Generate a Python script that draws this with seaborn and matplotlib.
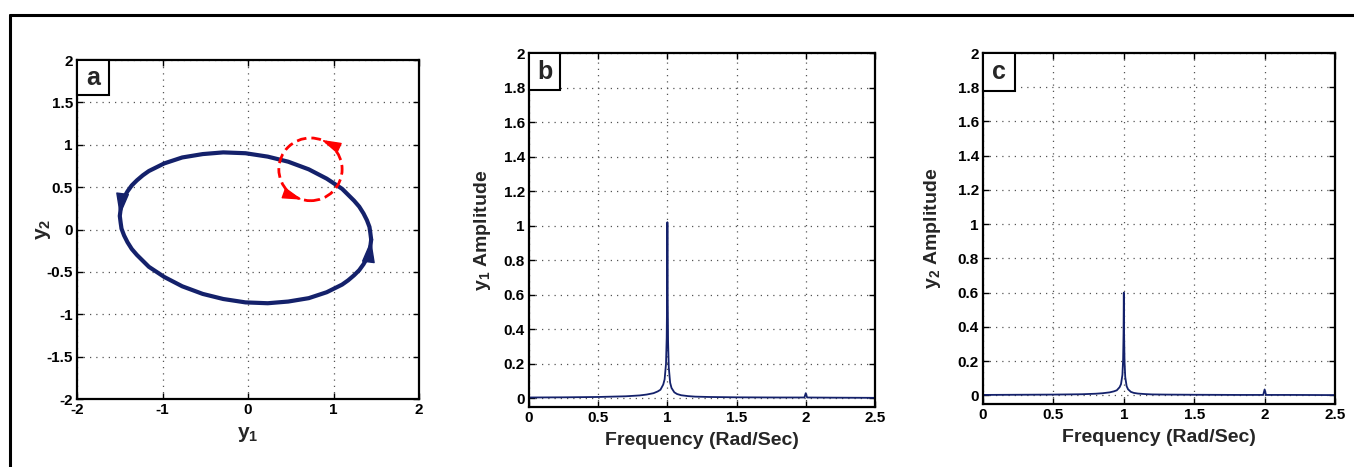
import math

import matplotlib.pyplot as plt
import pandas as pd
import seaborn as sns
from matplotlib.lines import Line2D
from matplotlib.patches import Circle, Rectangle
from matplotlib.ticker import FuncFormatter, MultipleLocator

# phase portrait (y1, y2), counter-clockwise
orbit_y1 = [1.44, 1.43, 1.42, 1.39, 1.35, 1.30, 1.24, 1.17, 1.10, 0.92,
            0.71, 0.47, 0.23, -0.03, -0.29, -0.53, -0.77, -0.98, -1.16, -1.23,
            -1.30, -1.36, -1.41, -1.45, -1.48, -1.49, -1.50, -1.49, -1.48, -1.45,
            -1.41, -1.36, -1.30, -1.23, -1.16, -0.98, -0.77, -0.53, -0.29, -0.03,
            0.23, 0.47, 0.71, 0.92, 1.10, 1.17, 1.24, 1.30, 1.35, 1.39,
            1.42, 1.43, 1.44]
orbit_y2 = [-0.12, -0.04, 0.03, 0.11, 0.19, 0.27, 0.34, 0.41, 0.48, 0.60,
            0.71, 0.80, 0.86, 0.90, 0.91, 0.89, 0.85, 0.78, 0.69, 0.64,
            0.58, 0.52, 0.45, 0.38, 0.31, 0.24, 0.16, 0.08, 0.01, -0.07,
            -0.15, -0.23, -0.30, -0.37, -0.44, -0.56, -0.67, -0.76, -0.82, -0.86,
            -0.87, -0.85, -0.81, -0.74, -0.65, -0.60, -0.54, -0.48, -0.41, -0.34,
            -0.27, -0.20, -0.12]

# red dashed circle marking the perturbation
circle_center = (0.73, 0.71)
circle_radius = 0.37

# amplitude spectra (panels b and c)
freq = [0, 0.25, 0.5, 0.6, 0.7, 0.8, 0.85, 0.9, 0.93, 0.95, 0.97, 0.98, 0.99,
        0.995, 0.998, 1.0, 1.002, 1.005, 1.01, 1.02, 1.03, 1.05, 1.07, 1.1,
        1.15, 1.2, 1.3, 1.5, 1.8, 1.99, 2.0, 2.01, 2.2, 2.5]
amp_y1 = [0.005, 0.006, 0.008, 0.010, 0.012, 0.017, 0.022, 0.030, 0.040, 0.050,
          0.080, 0.110, 0.200, 0.350, 0.600, 1.020, 0.600, 0.330, 0.180, 0.090,
          0.060, 0.035, 0.025, 0.018, 0.013, 0.010, 0.008, 0.006, 0.005, 0.005,
          0.030, 0.005, 0.004, 0.003]
amp_y2 = [0.003, 0.004, 0.005, 0.006, 0.007, 0.010, 0.013, 0.018, 0.024, 0.030,
          0.048, 0.066, 0.120, 0.210, 0.360, 0.600, 0.360, 0.200, 0.108, 0.054,
          0.036, 0.021, 0.015, 0.011, 0.008, 0.006, 0.005, 0.004, 0.003, 0.003,
          0.035, 0.003, 0.003, 0.002]

navy = "#14216b"

sns.set_theme(style="ticks")
plt.rcParams["font.family"] = ["Liberation Sans", "DejaVu Sans"]
plt.rcParams.update({
    "font.weight": "bold",
    "mathtext.fontset": "custom",
    "mathtext.rm": "Liberation Sans:bold",
    "mathtext.it": "Liberation Sans:bold",
    "mathtext.bf": "Liberation Sans:bold",
})

fig = plt.figure(figsize=(13.54, 4.67), dpi=100)
ax_a = fig.add_axes([0.0569, 0.1456, 0.2526, 0.7259])
ax_b = fig.add_axes([0.3907, 0.1285, 0.2555, 0.7580])
ax_c = fig.add_axes([0.7260, 0.1349, 0.2600, 0.7516])

# outer frame (top and left edges visible)
fig.add_artist(Line2D([10 / 1354, 1], [1 - 15 / 467, 1 - 15 / 467], color="black", lw=2.2))
fig.add_artist(Line2D([10 / 1354, 10 / 1354], [0, 1 - 15 / 467], color="black", lw=2.2))

fmt = FuncFormatter(lambda v, p: f"{v:g}")
head = "-|>,head_length=0.55,head_width=0.16"


def style_axes(ax, letter, box_w, box_h):
    ax.grid(True, linestyle=(0, (1, 4)), color="#555555", lw=0.9)
    ax.tick_params(direction="in", top=True, right=True, length=4, width=1,
                   labelsize=11, pad=3, colors="black")
    for lab in ax.get_xticklabels() + ax.get_yticklabels():
        lab.set_fontweight("bold")
    for s in ax.spines.values():
        s.set_linewidth(1.6)
        s.set_color("black")
    ax.xaxis.set_major_formatter(fmt)
    ax.yaxis.set_major_formatter(fmt)
    ax.add_patch(Rectangle((0, 1 - box_h), box_w, box_h, transform=ax.transAxes,
                           fill=True, fc="white", ec="black", lw=1.5, zorder=5,
                           clip_on=False))
    ax.text(box_w / 2, 1 - box_h / 2, letter, transform=ax.transAxes,
            ha="center", va="center", fontsize=18, fontweight="bold", zorder=6)


# panel a: limit cycle
orbit = pd.DataFrame({"y1": orbit_y1, "y2": orbit_y2})
sns.lineplot(data=orbit, x="y1", y="y2", sort=False, estimator=None,
             color=navy, lw=3, ax=ax_a)
ax_a.lines[-1].set_solid_joinstyle("round")
last = len(orbit_y1) - 1
for i0, i1 in [(25, 26), (last - 1, last)]:
    ax_a.annotate("", xy=(orbit_y1[i1], orbit_y2[i1]), xytext=(orbit_y1[i0], orbit_y2[i0]),
                  arrowprops=dict(arrowstyle=head, color=navy, lw=1,
                                  mutation_scale=26, shrinkA=0, shrinkB=0))
ax_a.add_patch(Circle(circle_center, circle_radius, fill=False, ec="red", lw=2,
                      ls=(0, (3.5, 1.8)), zorder=4))
for ang in [65, 250]:
    t = math.radians(ang)
    px = circle_center[0] + circle_radius * math.cos(t)
    py = circle_center[1] + circle_radius * math.sin(t)
    tx, ty = -math.sin(t), math.cos(t)
    ax_a.annotate("", xy=(px + 0.03 * tx, py + 0.03 * ty), xytext=(px - 0.08 * tx, py - 0.08 * ty),
                  arrowprops=dict(arrowstyle=head, color="red", lw=1,
                                  mutation_scale=22, shrinkA=0, shrinkB=0), zorder=5)
ax_a.set_xlim(-2, 2)
ax_a.set_ylim(-2, 2)
ax_a.xaxis.set_major_locator(MultipleLocator(1))
ax_a.yaxis.set_major_locator(MultipleLocator(0.5))
ax_a.set_xlabel(r"$\mathregular{y_1}$", fontsize=15, fontweight="bold")
ax_a.set_ylabel(r"$\mathregular{y_2}$", fontsize=15, fontweight="bold")
style_axes(ax_a, "a", 0.094, 0.104)
ax_a.xaxis.set_label_coords(0.5, -0.077)
ax_a.yaxis.set_label_coords(-0.07, 0.5)

# panels b and c: spectra
for ax, amp, name, letter, bw, bh, ylx in [
    (ax_b, amp_y1, "1", "b", 0.09, 0.105, -0.104),
    (ax_c, amp_y2, "2", "c", 0.09, 0.107, -0.114),
]:
    spec = pd.DataFrame({"freq": freq, "amp": amp})
    sns.lineplot(data=spec, x="freq", y="amp", estimator=None, color=navy, lw=1.3, ax=ax)
    ax.set_xlim(0, 2.5)
    ax.set_ylim(-0.05, 2)
    ax.xaxis.set_major_locator(MultipleLocator(0.5))
    ax.yaxis.set_major_locator(MultipleLocator(0.2))
    ax.set_xlabel("Frequency (Rad/Sec)", fontsize=14, fontweight="bold")
    ax.set_ylabel(r"$\mathregular{y_%s}$ Amplitude" % name, fontsize=14, fontweight="bold")
    style_axes(ax, letter, bw, bh)
    ax.xaxis.set_label_coords(0.5, -0.072)
    ax.yaxis.set_label_coords(ylx, 0.5)

fig.savefig("out.png", dpi=100, facecolor="white")
